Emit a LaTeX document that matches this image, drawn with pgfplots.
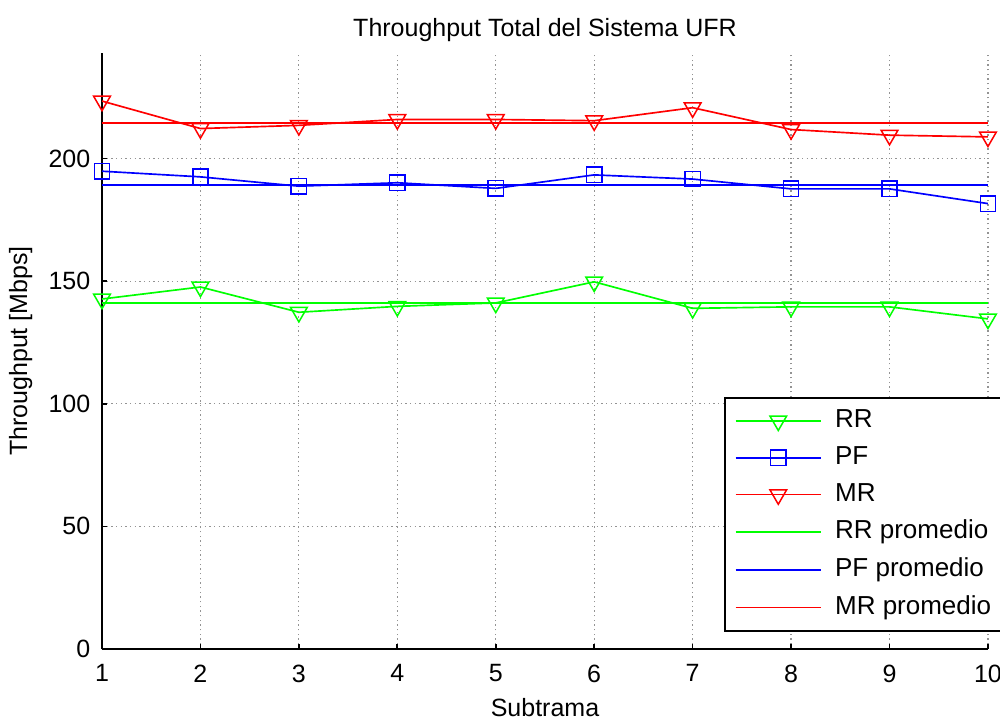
\documentclass[border=0pt]{standalone}
\usepackage{pgfplots}
\pgfplotsset{compat=1.18}
\usepackage{fontspec}
\setmainfont{Liberation Sans}
\begin{document}
\begin{tikzpicture}
\begin{axis}[
  at={(0,0)}, anchor=south west,
  scale only axis, width=265.8pt, height=178.8pt,
  xmin=1, xmax=10, ymin=0, ymax=243,
  xtick={1,...,10}, ytick={0,50,100,150,200},
  axis x line*=bottom, axis y line*=left,
  axis line style={black, line width=0.5pt, -},
  tick align=inside, tick style={black, line width=0.5pt}, major tick length=1.5pt,
  grid=major,
  major grid style={gray!85, densely dotted, line width=0.35pt},
  font=\fontsize{7.5}{9}\selectfont,
  /pgf/number format/assume math mode=true,
  ticklabel style={font=\fontsize{7.5}{9}\selectfont},
  xticklabel style={yshift=-1.2pt},
  title={Throughput Total del Sistema UFR},
  title style={yshift=-6pt},
  xlabel={Subtrama}, ylabel={Throughput [Mbps]},
  xlabel style={yshift=2.2pt}, ylabel style={yshift=-2pt},
  legend cell align=left,
  legend style={at={(0.702,0.423)}, anchor=north west, draw=black, line width=0.5pt,
    font=\fontsize{7.8}{9}\selectfont, row sep=0.2pt, inner xsep=3pt, inner ysep=1.5pt,
    nodes={inner xsep=4pt}},
  legend image code/.code={\draw[mark repeat=2,mark phase=2,#1] plot coordinates {(0cm,0cm)(0.45cm,0cm)(0.9cm,0cm)};},
]
\addplot[draw=green, line width=0.5pt, mark=triangle, mark options={rotate=180, solid, draw=green, line width=0.45pt}, mark size=2.9pt]
 coordinates {(1,142.7)(2,147.6)(3,137.3)(4,139.7)(5,141.1)(6,149.7)(7,138.9)(8,139.5)(9,139.5)(10,134.6)};
\addlegendentry{RR}
\addplot[draw=blue, line width=0.5pt, mark=square, mark options={solid, draw=blue, line width=0.45pt}, mark size=2.3pt]
 coordinates {(1,194.8)(2,192.5)(3,188.7)(4,190.1)(5,187.8)(6,193.3)(7,191.6)(8,187.6)(9,187.6)(10,181.6)};
\addlegendentry{PF}
\addplot[draw=red, line width=0.5pt, mark=triangle, mark options={rotate=180, solid, draw=red, line width=0.45pt}, mark size=2.9pt]
 coordinates {(1,223.4)(2,212.2)(3,213.5)(4,215.9)(5,215.9)(6,215.4)(7,220.7)(8,211.8)(9,209.5)(10,208.8)};
\addlegendentry{MR}
\addplot[draw=green, line width=0.45pt, mark=none] coordinates {(1,141.1)(10,141.1)};
\addlegendentry{RR promedio}
\addplot[draw=blue, line width=0.45pt, mark=none] coordinates {(1,189.2)(10,189.2)};
\addlegendentry{PF promedio}
\addplot[draw=red, line width=0.45pt, mark=none] coordinates {(1,214.4)(10,214.4)};
\addlegendentry{MR promedio}
\end{axis}
\pgfresetboundingbox
\path (-30.6pt,-20.4pt) rectangle (269.4pt,194.7pt);
\end{tikzpicture}
\end{document}
